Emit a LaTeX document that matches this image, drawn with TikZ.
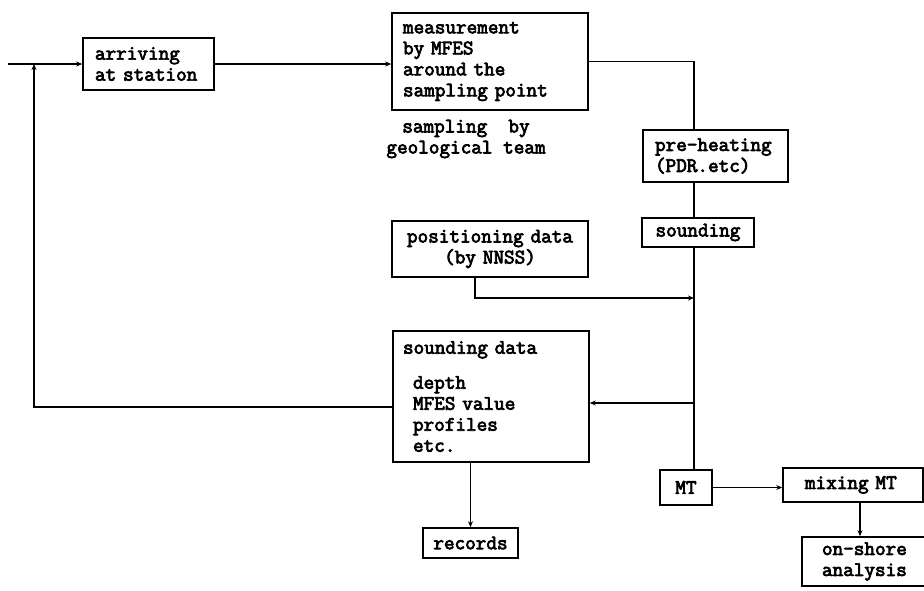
\documentclass[tikz,border=0pt]{standalone}
\usepackage{fontspec}
\setmainfont{Latin Modern Mono}[AutoFakeBold=3.5, WordSpace={1,0,0}]
\usetikzlibrary{arrows.meta}

\tikzset{
  txt/.style={font=\bfseries\fontsize{20.6}{21}\selectfont},
  box/.style={draw, line width=1.6pt, inner ysep=0pt, align=left, txt},
  cbox/.style={box, align=center},
  link/.style={line width=1.8pt},
  flow/.style={link, -{Stealth[length=6pt,width=5pt]}},
  note/.style={align=center, inner sep=0pt, txt}
}

\begin{document}
\begin{tikzpicture}[x=1pt, y=-1pt]
\useasboundingbox (0,0) rectangle (924,590);
\clip (0,0) rectangle (924,590);

% boxes
\node[box, minimum width=131, minimum height=52, inner xsep=12, text width=107]
  (arrive) at (148.5,64) {arriving\\at station};
\node[box, minimum width=196, minimum height=97, inner xsep=11, text width=174]
  (meas) at (490,61.5) {measurement\\by MFES\\around the\\sampling point};
\node[note] (samp) at (466,139) {sampling\ \ by\\geological team};
\node[box, minimum width=145, minimum height=52, inner xsep=12, text width=121]
  (pre) at (715.5,156) {pre-heating\\(PDR.etc)};
\node[cbox, minimum width=112, minimum height=29, inner xsep=6, text width=100]
  (snd) at (698,232.5) {sounding};
\node[cbox, minimum width=196, minimum height=56, inner xsep=10, text width=176]
  (pos) at (490,249) {positioning data\\(by NNSS)};
\node[box, minimum width=196, minimum height=131, inner xsep=10, text width=176]
  (sdata) at (491,396.5)
  {sounding data\\[14pt]\hspace*{10pt}depth\\\hspace*{10pt}MFES value\\\hspace*{10pt}profiles\\\hspace*{10pt}etc.};
\node[cbox, minimum width=95, minimum height=30, inner xsep=6, text width=83]
  (rec) at (470.5,543) {records};
\node[cbox, minimum width=52, minimum height=35, inner xsep=4, text width=44]
  (mt) at (686,487.5) {MT};
\node[box, minimum width=140, minimum height=34, inner xsep=22, text width=96]
  (mix) at (853,485) {mixing MT};
\node[box, minimum width=140, minimum height=49, inner xsep=20, text width=100]
  (shore) at (872,561.5) {on-shore\\analysis};

% junction points
\coordinate (start) at (8,64);
\coordinate (col) at (694,0);
\coordinate (fb) at (34,407);
\coordinate (j1) at (694,298);
\coordinate (j2) at (694,403);

% main line
\draw[flow] (start) -- (arrive.west);
\draw[flow] (arrive.east) -- (arrive.east -| meas.west);
\draw[link] (meas.east) -- (meas.east -| col) -- (col |- pre.north);
\draw[link] (col |- pre.south) -- (col |- snd.north);
\draw[link] (col |- snd.south) -- (col |- mt.north);

% positioning data into the column
\draw[flow] ([xshift=-15pt]pos.south) |- (j1);
% column out to sounding data
\draw[flow] (j2) -- (j2 -| sdata.east);

% feedback to the start
\draw[flow] (fb -| sdata.west) -- (fb) -- (fb |- start);

% records
\draw[flow] (sdata.south -| rec.north) -- (rec.north);

% MT branch
\draw[flow] (mt.east) -- (mt.east -| mix.west);
\draw[flow] ([xshift=7pt]mix.south) -- ([xshift=7pt]mix.south |- shore.north);
\end{tikzpicture}
\end{document}
